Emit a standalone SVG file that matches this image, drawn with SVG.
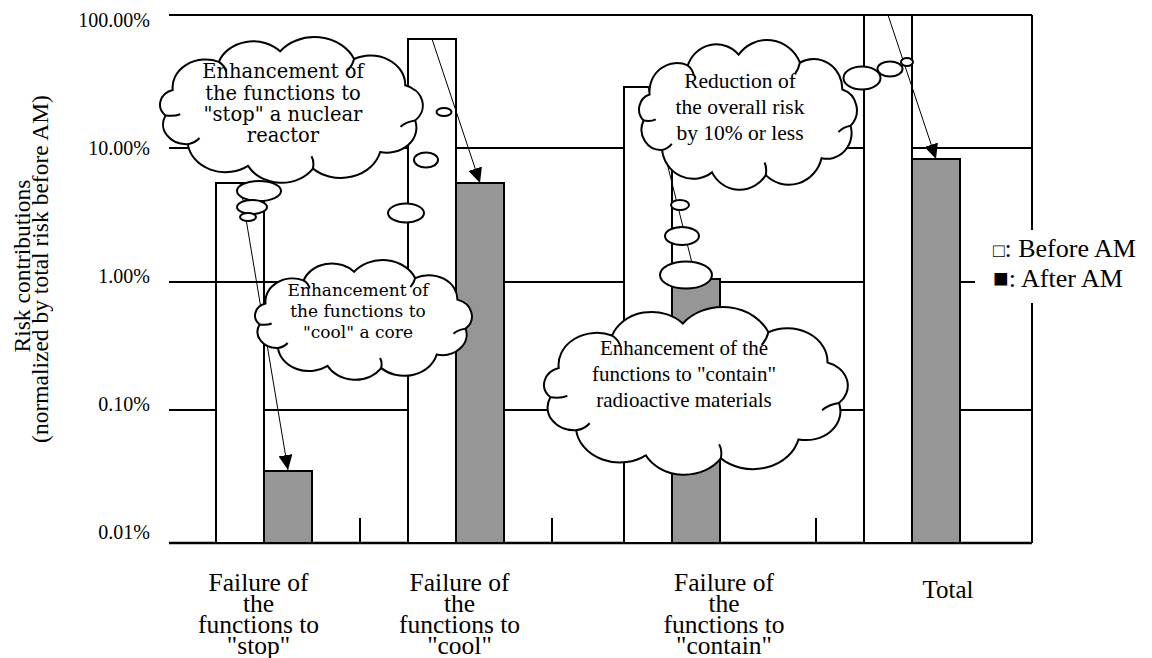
<svg xmlns="http://www.w3.org/2000/svg" width="1152" height="658" viewBox="0 0 1152 658">
<style>
.grid{stroke:#000;stroke-width:2;fill:none}
.axis{stroke:#000;stroke-width:2.5;fill:none}
.wbar{fill:#fff;stroke:#000;stroke-width:2}
.gbar{fill:#969696;stroke:#000;stroke-width:2}
.arr{stroke:#000;stroke-width:1;fill:none;marker-end:url(#ah)}
.cl{fill:#fff;stroke:#000;stroke-width:2;vector-effect:non-scaling-stroke}
.hk{fill:none;stroke:#000;stroke-width:2;vector-effect:non-scaling-stroke}
.bub{fill:#fff;stroke:#000;stroke-width:2}
.tick{font-family:"Liberation Serif",serif;font-size:20px;text-anchor:end;fill:#000}
.yt{font-family:"Liberation Serif",serif;font-size:23.5px;text-anchor:middle;fill:#000}
.cat{font-family:"Liberation Serif",serif;font-size:25.5px;text-anchor:middle;fill:#000}
.leg{font-family:"Liberation Serif",serif;font-size:26px;fill:#000}
.c1{font-family:"DejaVu Serif",serif;font-size:19.5px;text-anchor:middle;fill:#000}
.c2{font-family:"DejaVu Serif",serif;font-size:17px;text-anchor:middle;fill:#000}
.c3{font-family:"Liberation Serif",serif;font-size:21.5px;text-anchor:middle;fill:#000}
.c4{font-family:"Liberation Serif",serif;font-size:21px;text-anchor:middle;fill:#000}
</style>
<defs>
<marker id="ah" viewBox="0 0 15 14" refX="15" refY="7" markerWidth="15" markerHeight="14" markerUnits="userSpaceOnUse" orient="auto">
<path d="M0,0 L15,7 L0,14 Z" fill="#000"/>
</marker>
<g id="cloud">
<path class="cl" d="M19.2,43.6 A22.6,22.6 0 0 1 50.7,20.7 A24.8,24.8 0 0 1 92.5,12.2 A29.5,29.5 0 0 1 143,18.4 A23.7,23.7 0 0 1 177.9,39.7 A17.1,17.1 0 0 1 184.7,68.3 A20.3,20.3 0 0 1 160.8,93.9 A27.7,27.7 0 0 1 114.9,107.3 A25.8,25.8 0 0 1 70.6,105.1 A25.9,25.9 0 0 1 29.5,87.5 A16.1,16.1 0 0 1 14.3,64.2 A12.3,12.3 0 0 1 19.2,43.6 Z"/>
<path class="hk" d="M50.7,20.7 q4,3 5,8 M143,18.4 q-1,5 -4,9 M184.7,68.3 q-6,1 -10,5 M114.9,107.3 q1,-6 -1,-10 M29.5,87.5 q5,-1 8,-5 M14.3,64.2 q6,1 10,-1"/>
</g>
</defs>

<g id="axes">
<path class="grid" d="M169,15 H1032 M169,148 H1032 M169,282 H975 M169,410 H1032 M1032,15 V230 M1032,303 V543 M360,518 V543 M552,518 V543 M816,518 V543"/>
<path class="axis" d="M169,543 H1032"/>
<text class="tick" x="150" y="27">100.00%</text>
<text class="tick" x="150" y="155">10.00%</text>
<text class="tick" x="150" y="283">1.00%</text>
<text class="tick" x="150" y="411">0.10%</text>
<text class="tick" x="150" y="539">0.01%</text>
<text class="yt" transform="translate(30,266) rotate(-90)">Risk contributions</text>
<text class="yt" transform="translate(48,269) rotate(-90)">(normalized by total risk before AM)</text>
</g>

<g id="bars-stop">
<rect class="wbar" x="216" y="183" width="48" height="360"/>
<rect class="gbar" x="264" y="471" width="48" height="72"/>
</g>
<g id="bars-cool">
<rect class="wbar" x="408" y="39" width="48" height="504"/>
<rect class="gbar" x="456" y="183" width="48" height="360"/>
</g>
<g id="bars-contain">
<rect class="wbar" x="624" y="87" width="48" height="456"/>
<rect class="gbar" x="672" y="279" width="48" height="264"/>
</g>
<g id="bars-total">
<rect class="wbar" x="864" y="15" width="48" height="528"/>
<rect class="gbar" x="912" y="159" width="48" height="384"/>
</g>
<path class="grid" d="M216,282 H264"/>

<g id="categories">
<text class="cat" x="258.5" y="591">Failure of</text>
<text class="cat" x="258.5" y="612">the</text>
<text class="cat" x="258.5" y="633">functions to</text>
<text class="cat" x="258.5" y="654">"stop"</text>
<text class="cat" x="459.5" y="591">Failure of</text>
<text class="cat" x="459.5" y="612">the</text>
<text class="cat" x="459.5" y="633">functions to</text>
<text class="cat" x="459.5" y="654">"cool"</text>
<text class="cat" x="724" y="591">Failure of</text>
<text class="cat" x="724" y="612">the</text>
<text class="cat" x="724" y="633">functions to</text>
<text class="cat" x="724" y="654">"contain"</text>
<text class="cat" x="948" y="598" style="font-size:25px">Total</text>
</g>

<g id="legend">
<text class="leg" x="993" y="257"><tspan style="font-size:19px">□</tspan>: Before AM</text>
<text class="leg" x="993" y="287">■: After AM</text>
</g>

<g id="connectors">
<line class="arr" x1="240" y1="183" x2="288" y2="470"/>
<line class="arr" x1="432" y1="39" x2="480" y2="183"/>
<line class="arr" x1="648" y1="87" x2="696" y2="279"/>
<line class="arr" x1="888" y1="15" x2="936" y2="159"/>
</g>

<g id="cloud-reduction">
<use href="#cloud" transform="translate(626.25,39.2) scale(1.2145,1.267)"/>
<text class="c3" x="740" y="88">Reduction of</text>
<text class="c3" x="740" y="114">the overall risk</text>
<text class="c3" x="740" y="140">by 10% or less</text>
<ellipse class="bub" cx="862" cy="78" rx="18.5" ry="11.5"/>
<ellipse class="bub" cx="890" cy="69" rx="12.5" ry="7.5"/>
<ellipse class="bub" cx="907" cy="62" rx="6" ry="4"/>
</g>

<g id="cloud-contain">
<use href="#cloud" transform="translate(526.2,306.15) scale(1.6936,1.419)"/>
<text class="c4" x="684" y="355">Enhancement of the</text>
<text class="c4" x="684" y="381">functions to "contain"</text>
<text class="c4" x="684" y="407">radioactive materials</text>
<ellipse class="bub" cx="680" cy="205" rx="9" ry="5"/>
<ellipse class="bub" cx="682" cy="236" rx="17" ry="9"/>
<ellipse class="bub" cx="686" cy="275" rx="26" ry="13.5"/>
</g>

<g id="cloud-cool">
<use href="#cloud" transform="translate(242.3,259.4) scale(1.209,1.0135)"/>
<text class="c2" x="358" y="296">Enhancement of</text>
<text class="c2" x="358" y="317">the functions to</text>
<text class="c2" x="358" y="338">"cool" a core</text>
<ellipse class="bub" cx="444" cy="112" rx="7.5" ry="4"/>
<ellipse class="bub" cx="426" cy="160" rx="12" ry="7.5"/>
<ellipse class="bub" cx="406" cy="213" rx="18" ry="9.5"/>
</g>

<g id="cloud-stop">
<use href="#cloud" transform="translate(144.6,36.3) scale(1.465,1.233)"/>
<text class="c1" x="283" y="78">Enhancement of</text>
<text class="c1" x="283" y="100">the functions to</text>
<text class="c1" x="283" y="121">"stop" a nuclear</text>
<text class="c1" x="283" y="142">reactor</text>
<ellipse class="bub" cx="259" cy="191" rx="22" ry="10"/>
<ellipse class="bub" cx="252" cy="207" rx="15" ry="7"/>
<ellipse class="bub" cx="248" cy="217" rx="8" ry="4"/>
</g>
</svg>
